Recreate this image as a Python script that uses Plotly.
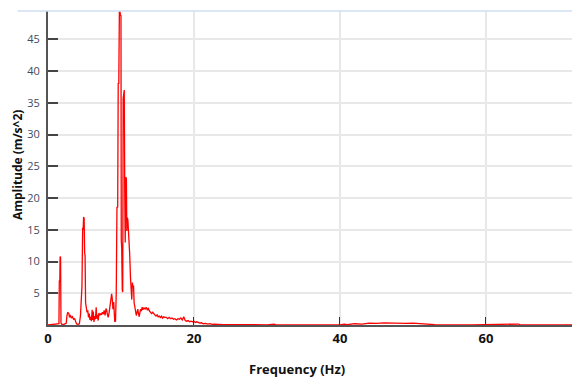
import plotly.graph_objects as go

# Spectrum (Hz, m/s^2)
freq_hz = [
    0.0, 0.5, 1.0, 1.4, 1.5, 1.55, 1.62, 1.66, 1.72, 1.78, 1.9, 2.2, 2.5, 2.6, 2.7, 2.85, 2.95, 3.05, 3.2, 3.35,
    3.5, 3.65, 3.8, 3.9, 4.1, 4.3, 4.45, 4.55, 4.65, 4.75, 4.82, 4.88, 4.95, 5.02, 5.08, 5.15, 5.25, 5.35, 5.45, 5.55,
    5.65, 5.75, 5.85, 5.95, 6.05, 6.12, 6.2, 6.3, 6.4, 6.5, 6.6, 6.68, 6.78, 6.88, 6.98, 7.08, 7.2, 7.32, 7.45, 7.58,
    7.7, 7.82, 7.95, 8.05, 8.15, 8.25, 8.38, 8.5, 8.62, 8.72, 8.8, 8.9, 9.0, 9.08, 9.15, 9.25, 9.35, 9.45, 9.55, 9.62,
    9.7, 9.78, 9.86, 9.92, 10.0, 10.04, 10.1, 10.18, 10.24, 10.3, 10.38, 10.45, 10.52, 10.58, 10.66, 10.74, 10.8, 10.88, 10.95, 11.02,
    11.1, 11.2, 11.3, 11.38, 11.48, 11.56, 11.64, 11.72, 11.8, 11.9, 12.0, 12.1, 12.2, 12.3, 12.4, 12.5, 12.6, 12.7, 12.8, 12.9,
    13.0, 13.15, 13.3, 13.45, 13.6, 13.75, 13.9, 14.05, 14.2, 14.35, 14.5, 14.65, 14.8, 14.95, 15.1, 15.25, 15.4, 15.55, 15.7, 15.85,
    16.0, 16.2, 16.4, 16.6, 16.8, 17.0, 17.2, 17.4, 17.6, 17.8, 18.0, 18.2, 18.4, 18.6, 18.8, 19.0, 19.2, 19.4, 19.6, 19.8,
    20.0, 20.2, 20.4, 20.6, 20.8, 21.0, 21.3, 21.6, 21.9, 22.2, 22.5, 22.8, 23.1, 23.5, 24.0, 25.0, 27.0, 30.0, 31.0, 31.2,
    35.0, 40.0, 40.6, 41.0, 42.0, 43.0, 44.0, 45.0, 46.0, 47.0, 48.0, 49.0, 50.0, 51.0, 52.0, 53.0, 58.0, 64.5, 64.7, 72.0,
]
amplitude = [
    0.0, 0.05, 0.1, 0.1, 0.2, 7.0, 6.8, 10.8, 10.6, 0.3, 0.1, 0.1, 0.3, 1.5, 2.0, 1.8, 1.2, 1.6, 1.1, 1.3,
    0.9, 1.0, 0.4, 0.2, 0.1, 0.2, 1.5, 5.8, 6.0, 15.3, 15.0, 17.0, 16.8, 11.3, 11.0, 3.5, 3.0, 2.0, 2.3, 1.2,
    1.8, 0.8, 1.3, 0.6, 2.4, 0.8, 2.1, 0.5, 1.4, 0.9, 2.8, 1.0, 1.6, 0.7, 1.9, 1.5, 1.8, 1.6, 2.0, 1.7,
    2.3, 1.5, 2.6, 2.3, 1.6, 1.2, 2.0, 3.0, 3.8, 4.9, 4.2, 2.5, 3.6, 1.7, 0.5, 0.6, 5.0, 18.6, 18.5, 38.1,
    38.0, 49.3, 49.3, 48.8, 48.7, 13.4, 12.1, 5.5, 5.2, 35.7, 36.9, 37.0, 20.0, 13.0, 23.3, 23.0, 14.8, 16.9, 16.5, 14.9,
    11.2, 11.0, 7.5, 5.7, 4.0, 6.7, 6.0, 6.2, 3.5, 2.8, 2.5, 1.5, 2.0, 2.5, 1.8, 1.3, 2.0, 2.5, 2.2, 2.8,
    2.4, 2.7, 2.5, 2.8, 2.4, 2.6, 2.2, 2.0, 1.8, 2.0, 1.7, 1.6, 1.4, 1.6, 1.3, 1.4, 1.2, 1.4, 1.1, 1.3,
    1.2, 1.2, 1.0, 1.2, 1.0, 1.1, 0.9, 1.0, 0.8, 1.0, 0.9, 1.1, 0.8, 1.3, 0.7, 0.6, 0.7, 0.5, 0.6, 0.5,
    0.6, 0.4, 0.5, 0.4, 0.3, 0.35, 0.2, 0.25, 0.15, 0.2, 0.1, 0.15, 0.1, 0.12, 0.05, 0.05, 0.02, 0.03, 0.15, 0.02,
    0.02, 0.02, 0.15, 0.05, 0.2, 0.15, 0.3, 0.25, 0.35, 0.3, 0.3, 0.25, 0.3, 0.2, 0.15, 0.05, 0.02, 0.15, 0.02, 0.02,
]

x_ticks = [0, 20, 40, 60]
y_ticks = [5, 10, 15, 20, 25, 30, 35, 40, 45]

narrow = "Liberation Sans Narrow, Arial Narrow, Open Sans, sans-serif"

fig = go.Figure()
fig.add_trace(go.Scatter(
    x=freq_hz, y=amplitude, mode="lines",
    line=dict(color="#ff0000", width=1.3),
    showlegend=False, hoverinfo="skip",
))

fig.update_layout(
    width=572, height=379,
    margin=dict(l=48, r=0, t=11, b=54, autoexpand=False),
    paper_bgcolor="white", plot_bgcolor="white",
    xaxis=dict(
        range=[0, 71.8], tickvals=x_ticks, ticktext=[str(v) for v in x_ticks],
        showgrid=True, gridcolor="#e8e8e8", gridwidth=2,
        zeroline=False, showline=True, linecolor="#555555", linewidth=2,
        ticks="inside", ticklen=8, tickcolor="#333333", tickwidth=1,
        tickfont=dict(family=narrow, size=13, color="#111111", weight="bold"),
        automargin=False,
    ),
    yaxis=dict(
        range=[0, 49.45], tickvals=y_ticks,
        showgrid=True, gridcolor="#e8e8e8", gridwidth=2,
        zeroline=False, showline=True, linecolor="#555555", linewidth=2,
        ticks="inside", ticklen=10, tickcolor="#444444", tickwidth=2,
        ticklabelstandoff=4,
        tickfont=dict(family="Open Sans, sans-serif", size=11, color="#3d4b5f"),
        automargin=False,
    ),
    shapes=[dict(type="line", xref="paper", yref="paper", x0=-0.058, x1=1, y0=1, y1=1,
                 line=dict(color="#cfdff5", width=1.5))],
    annotations=[
        dict(text="Frequency (Hz)", xref="paper", yref="paper", x=0.475, y=-0.14,
             xanchor="center", yanchor="middle", showarrow=False,
             font=dict(family=narrow, size=13, color="#111111", weight="bold")),
        dict(text="Amplitude (m/s^2)", xref="paper", yref="paper", x=-0.058, y=0.508,
             xanchor="center", yanchor="middle", showarrow=False, textangle=-90,
             font=dict(family="Open Sans, sans-serif", size=12, color="#111111", weight="bold")),
    ],
)

fig.write_html("out.html", config={"displayModeBar": False},
               post_script="document.body.style.margin='0';document.body.style.padding='0';")
